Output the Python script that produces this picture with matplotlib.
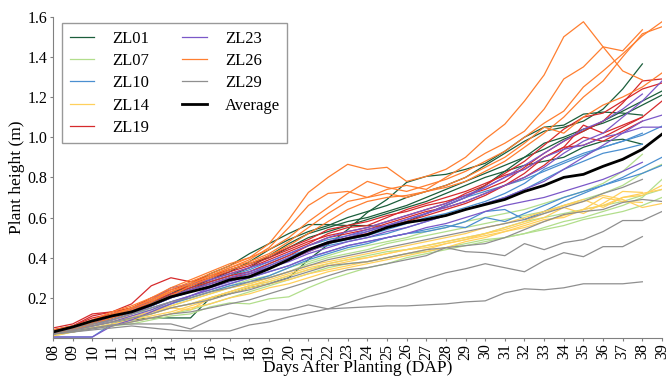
import numpy as np
import matplotlib
matplotlib.use("Agg")
from matplotlib import pyplot as plt

nan = np.nan

# days after planting
days = list(range(8, 40))
day_labels = ["%02d" % d for d in days]

# plant height (m) per replicate, days 08..39
zl01 = [
    [0.03, 0.05, 0.08, 0.11, 0.14, 0.17, 0.21, 0.25, 0.29, 0.33, 0.38, 0.44, 0.49, 0.53, 0.56, 0.60,
     0.63, 0.66, 0.70, 0.73, 0.76, 0.80, 0.86, 0.92, 0.98, 1.03, 1.05, 1.08, 1.14, 1.24, 1.365, nan],
    [0.03, 0.05, 0.07, 0.10, 0.13, 0.17, 0.22, 0.27, 0.32, 0.36, 0.42, 0.47, 0.52, 0.565, 0.565, 0.56,
     0.56, 0.555, 0.58, 0.62, 0.66, 0.70, 0.76, 0.83, 0.90, 0.97, 1.00, 1.04, 1.07, 1.11, 1.16, 1.21],
    [0.02, 0.04, 0.06, 0.08, 0.09, 0.10, 0.10, 0.10, 0.20, 0.22, 0.25, 0.27, 0.30, 0.39, 0.465, 0.54,
     0.625, 0.69, 0.775, 0.805, 0.815, 0.84, 0.87, 0.93, 1.00, 1.05, 1.06, 1.115, 1.125, 1.12, 1.11, nan],
    [0.03, 0.05, 0.08, 0.11, 0.14, 0.18, 0.22, 0.26, 0.30, 0.34, 0.37, 0.40, 0.45, 0.50, 0.53, 0.56,
     0.59, 0.62, 0.65, 0.68, 0.72, 0.76, 0.80, 0.83, 0.86, 0.88, 0.90, 0.95, 0.98, 0.99, 0.965, nan],
    [0.02, 0.04, 0.07, 0.10, 0.13, 0.16, 0.20, 0.24, 0.28, 0.31, 0.35, 0.41, 0.47, 0.52, 0.55, 0.58,
     0.60, 0.63, 0.66, 0.70, 0.74, 0.78, 0.82, 0.86, 0.90, 0.94, 0.99, 1.03, 1.08, 1.13, 1.18, 1.23],
]
zl07 = [
    [0.01, 0.03, 0.05, 0.06, 0.07, 0.09, 0.11, 0.12, 0.155, 0.175, 0.17, 0.195, 0.205, 0.25, 0.29, 0.32,
     0.35, 0.37, 0.40, 0.42, 0.44, 0.46, 0.48, 0.50, 0.52, 0.55, 0.58, 0.60, 0.63, 0.66, 0.70, 0.79],
    [0.02, 0.04, 0.06, 0.08, 0.10, 0.13, 0.16, 0.19, 0.22, 0.25, 0.27, 0.30, 0.33, 0.37, 0.40, 0.42,
     0.44, 0.47, 0.49, 0.51, 0.53, 0.55, 0.57, 0.59, 0.61, 0.63, 0.66, 0.69, 0.72, 0.76, 0.82, 0.865],
    [0.02, 0.04, 0.05, 0.07, 0.09, 0.12, 0.15, 0.17, 0.20, 0.23, 0.26, 0.28, 0.31, 0.34, 0.37, 0.39,
     0.41, 0.43, 0.44, 0.46, 0.48, 0.50, 0.52, 0.55, 0.58, 0.60, 0.62, 0.64, 0.66, 0.68, 0.71, 0.74],
    [0.03, 0.05, 0.07, 0.09, 0.12, 0.14, 0.17, 0.20, 0.23, 0.26, 0.29, 0.31, 0.35, 0.38, 0.41, 0.44,
     0.46, 0.48, 0.50, 0.53, 0.55, 0.58, 0.60, 0.62, 0.64, 0.67, 0.70, 0.73, 0.77, 0.83, 0.915, nan],
    [0.02, 0.03, 0.05, 0.06, 0.08, 0.10, 0.12, 0.14, 0.17, 0.20, 0.23, 0.26, 0.29, 0.32, 0.35, 0.37,
     0.38, 0.40, 0.42, 0.43, 0.45, 0.47, 0.49, 0.50, 0.52, 0.54, 0.56, 0.59, 0.61, 0.63, 0.66, 0.70],
]
zl10 = [
    [0.02, 0.04, 0.07, 0.10, 0.13, 0.16, 0.20, 0.23, 0.26, 0.29, 0.32, 0.36, 0.40, 0.44, 0.47, 0.49,
     0.51, 0.54, 0.57, 0.60, 0.62, 0.65, 0.68, 0.72, 0.77, 0.84, 0.88, 0.92, 0.95, 0.98, 1.01, 1.055],
    [0.005, 0.005, 0.005, 0.07, 0.10, 0.13, 0.17, 0.20, 0.23, 0.26, 0.28, 0.31, 0.35, 0.39, 0.42, 0.45,
     0.47, 0.50, 0.52, 0.53, 0.55, 0.58, 0.63, 0.64, 0.59, 0.63, 0.68, 0.72, 0.76, 0.80, 0.85, 0.90],
    [0.03, 0.05, 0.08, 0.11, 0.14, 0.17, 0.21, 0.24, 0.27, 0.30, 0.33, 0.37, 0.41, 0.44, 0.46, 0.48,
     0.50, 0.52, 0.55, 0.58, 0.61, 0.64, 0.67, 0.70, 0.74, 0.79, 0.84, 0.88, 0.92, 0.94, 0.965, nan],
    [0.02, 0.05, 0.08, 0.11, 0.14, 0.18, 0.22, 0.25, 0.28, 0.31, 0.34, 0.38, 0.42, 0.46, 0.49, 0.51,
     0.53, 0.56, 0.59, 0.62, 0.66, 0.70, 0.73, 0.76, 0.79, 0.83, 0.87, 0.91, 0.95, 0.98, 1.02, nan],
    [0.02, 0.04, 0.06, 0.09, 0.12, 0.15, 0.18, 0.21, 0.24, 0.27, 0.30, 0.33, 0.36, 0.40, 0.43, 0.46,
     0.48, 0.50, 0.52, 0.54, 0.56, 0.55, 0.60, 0.58, 0.62, 0.66, 0.70, 0.73, 0.76, 0.79, 0.82, 0.86],
]
zl14 = [
    [0.02, 0.04, 0.06, 0.08, 0.10, 0.12, 0.15, 0.14, 0.20, 0.23, 0.26, 0.28, 0.31, 0.34, 0.36, 0.38,
     0.40, 0.42, 0.44, 0.46, 0.48, 0.50, 0.52, 0.54, 0.57, 0.60, 0.65, 0.62, 0.67, 0.73, 0.725, nan],
    [0.02, 0.03, 0.05, 0.07, 0.09, 0.11, 0.13, 0.16, 0.19, 0.22, 0.25, 0.27, 0.29, 0.32, 0.34, 0.36,
     0.38, 0.40, 0.42, 0.44, 0.47, 0.49, 0.51, 0.53, 0.55, 0.58, 0.61, 0.64, 0.70, 0.68, 0.675, nan],
    [0.03, 0.05, 0.07, 0.09, 0.11, 0.13, 0.16, 0.19, 0.22, 0.25, 0.27, 0.30, 0.33, 0.36, 0.38, 0.40,
     0.42, 0.44, 0.46, 0.48, 0.50, 0.52, 0.55, 0.57, 0.60, 0.63, 0.66, 0.69, 0.65, 0.70, 0.72, 0.74],
    [0.01, 0.03, 0.05, 0.06, 0.08, 0.10, 0.12, 0.15, 0.17, 0.20, 0.22, 0.25, 0.27, 0.30, 0.33, 0.35,
     0.37, 0.39, 0.41, 0.43, 0.45, 0.48, 0.50, 0.53, 0.56, 0.59, 0.60, 0.64, 0.66, 0.70, 0.71, 0.76],
    [0.02, 0.04, 0.06, 0.08, 0.10, 0.13, 0.15, 0.17, 0.20, 0.23, 0.26, 0.29, 0.32, 0.35, 0.37, 0.39,
     0.40, 0.42, 0.44, 0.45, 0.47, 0.49, 0.52, 0.55, 0.58, 0.62, 0.66, 0.68, 0.71, 0.69, 0.65, 0.67],
]
zl19 = [
    [0.05, 0.07, 0.12, 0.13, 0.17, 0.26, 0.30, 0.28, 0.31, 0.34, 0.37, 0.41, 0.45, 0.49, 0.54, 0.56,
     0.58, 0.61, 0.63, 0.66, 0.68, 0.71, 0.74, 0.78, 0.85, 0.92, 0.98, 1.03, 1.08, 1.17, 1.28, 1.29],
    [0.04, 0.06, 0.11, 0.13, 0.15, 0.19, 0.23, 0.26, 0.29, 0.32, 0.35, 0.39, 0.43, 0.47, 0.52, 0.55,
     0.56, 0.60, 0.64, 0.67, 0.70, 0.73, 0.77, 0.81, 0.84, 0.90, 0.95, 1.06, 1.02, 1.06, 1.10, 1.18],
    [0.03, 0.05, 0.09, 0.12, 0.15, 0.18, 0.22, 0.25, 0.28, 0.31, 0.33, 0.37, 0.41, 0.46, 0.50, 0.52,
     0.54, 0.57, 0.60, 0.63, 0.65, 0.68, 0.72, 0.76, 0.80, 0.86, 0.94, 1.00, 0.98, 1.03, 1.08, nan],
    [0.04, 0.06, 0.10, 0.12, 0.15, 0.20, 0.24, 0.27, 0.30, 0.33, 0.36, 0.40, 0.44, 0.48, 0.51, 0.53,
     0.55, 0.58, 0.61, 0.64, 0.67, 0.72, 0.76, 0.82, 0.88, 0.96, 1.04, 1.10, 1.12, 1.18, 1.24, 1.27],
    [0.03, 0.05, 0.08, 0.11, 0.14, 0.17, 0.21, 0.24, 0.27, 0.30, 0.32, 0.35, 0.39, 0.43, 0.47, 0.50,
     0.52, 0.55, 0.58, 0.61, 0.64, 0.67, 0.71, 0.76, 0.82, 0.90, 0.95, 0.96, 1.00, 1.05, 1.10, nan],
]
zl23 = [
    [0.03, 0.05, 0.08, 0.11, 0.14, 0.19, 0.25, 0.27, 0.29, 0.32, 0.35, 0.38, 0.42, 0.46, 0.50, 0.53,
     0.55, 0.58, 0.61, 0.64, 0.67, 0.71, 0.75, 0.80, 0.86, 0.92, 0.98, 1.04, 1.08, 1.14, 1.215, nan],
    [0.005, 0.005, 0.005, 0.06, 0.09, 0.13, 0.17, 0.21, 0.25, 0.28, 0.31, 0.35, 0.39, 0.43, 0.47, 0.50,
     0.53, 0.56, 0.59, 0.62, 0.65, 0.68, 0.72, 0.76, 0.80, 0.85, 0.92, 0.98, 1.02, 1.10, 1.18, 1.28],
    [0.02, 0.04, 0.07, 0.09, 0.12, 0.16, 0.20, 0.23, 0.26, 0.29, 0.32, 0.35, 0.38, 0.42, 0.45, 0.48,
     0.50, 0.53, 0.55, 0.58, 0.61, 0.64, 0.67, 0.70, 0.74, 0.78, 0.84, 0.90, 0.96, 1.02, 1.08, 1.11],
    [0.02, 0.04, 0.06, 0.08, 0.11, 0.14, 0.18, 0.21, 0.24, 0.27, 0.30, 0.33, 0.36, 0.40, 0.43, 0.46,
     0.48, 0.50, 0.52, 0.55, 0.57, 0.60, 0.63, 0.66, 0.68, 0.70, 0.73, 0.76, 0.79, 0.83, 0.875, nan],
    [0.03, 0.05, 0.08, 0.10, 0.13, 0.17, 0.21, 0.24, 0.27, 0.30, 0.33, 0.36, 0.40, 0.44, 0.48, 0.51,
     0.54, 0.56, 0.59, 0.62, 0.66, 0.70, 0.75, 0.80, 0.84, 0.90, 0.94, 0.96, 1.00, 1.02, 1.05, 1.05],
]
zl26 = [
    [0.04, 0.06, 0.09, 0.13, 0.16, 0.20, 0.25, 0.29, 0.33, 0.37, 0.40, 0.47, 0.59, 0.725, 0.80, 0.865,
     0.84, 0.85, 0.78, 0.805, 0.84, 0.90, 0.99, 1.065, 1.18, 1.31, 1.50, 1.575, 1.45, 1.33, 1.285, nan],
    [0.03, 0.05, 0.08, 0.11, 0.14, 0.18, 0.23, 0.27, 0.31, 0.35, 0.39, 0.45, 0.55, 0.66, 0.72, 0.73,
     0.70, 0.74, 0.76, 0.74, 0.80, 0.86, 0.92, 0.97, 1.03, 1.14, 1.29, 1.35, 1.45, 1.43, 1.535, nan],
    [0.03, 0.05, 0.08, 0.12, 0.15, 0.19, 0.24, 0.28, 0.32, 0.36, 0.40, 0.44, 0.50, 0.58, 0.65, 0.72,
     0.78, 0.75, 0.73, 0.76, 0.79, 0.83, 0.88, 0.93, 1.00, 1.07, 1.13, 1.25, 1.33, 1.415, 1.505, 1.575],
    [0.02, 0.04, 0.07, 0.10, 0.13, 0.17, 0.21, 0.26, 0.30, 0.34, 0.37, 0.41, 0.46, 0.52, 0.58, 0.64,
     0.68, 0.70, 0.71, 0.73, 0.75, 0.78, 0.83, 0.88, 0.95, 1.02, 1.10, 1.20, 1.28, 1.40, 1.515, 1.55],
    [0.03, 0.05, 0.08, 0.11, 0.15, 0.19, 0.23, 0.27, 0.31, 0.35, 0.38, 0.42, 0.48, 0.55, 0.62, 0.68,
     0.70, 0.72, 0.70, 0.73, 0.76, 0.80, 0.85, 0.90, 0.97, 1.05, 1.02, 1.10, 1.16, 1.20, 1.25, 1.32],
]
zl29 = [
    [0.02, 0.035, 0.05, 0.065, 0.07, 0.07, 0.07, 0.045, 0.09, 0.125, 0.105, 0.14, 0.14, 0.165, 0.145, 0.15,
     0.155, 0.16, 0.16, 0.165, 0.17, 0.18, 0.185, 0.225, 0.245, 0.24, 0.25, 0.27, 0.27, 0.27, 0.28, nan],
    [0.02, 0.03, 0.04, 0.05, 0.06, 0.05, 0.04, 0.035, 0.035, 0.035, 0.065, 0.08, 0.105, 0.125, 0.145, 0.175,
     0.205, 0.23, 0.26, 0.295, 0.325, 0.345, 0.37, 0.35, 0.33, 0.385, 0.425, 0.405, 0.455, 0.455, 0.505, nan],
    [0.02, 0.03, 0.045, 0.06, 0.08, 0.10, 0.12, 0.13, 0.15, 0.17, 0.19, 0.22, 0.25, 0.28, 0.31, 0.34,
     0.35, 0.37, 0.39, 0.41, 0.45, 0.43, 0.425, 0.41, 0.47, 0.44, 0.475, 0.49, 0.53, 0.585, 0.585, 0.63],
    [0.03, 0.04, 0.06, 0.08, 0.10, 0.12, 0.15, 0.17, 0.19, 0.22, 0.24, 0.27, 0.30, 0.33, 0.36, 0.37,
     0.38, 0.40, 0.42, 0.44, 0.45, 0.46, 0.47, 0.50, 0.54, 0.58, 0.615, 0.63, 0.64, 0.675, 0.69, 0.68],
    [0.03, 0.05, 0.07, 0.09, 0.12, 0.15, 0.18, 0.20, 0.23, 0.25, 0.28, 0.30, 0.33, 0.36, 0.39, 0.41,
     0.43, 0.45, 0.47, 0.49, 0.51, 0.53, 0.55, 0.57, 0.59, 0.62, 0.65, 0.68, 0.72, 0.75, 0.79, nan],
]
average = [0.03, 0.055, 0.085, 0.11, 0.13, 0.165, 0.205, 0.23, 0.255, 0.29, 0.305, 0.345, 0.39, 0.44, 0.475, 0.495,
           0.515, 0.55, 0.575, 0.59, 0.61, 0.64, 0.665, 0.69, 0.73, 0.76, 0.80, 0.815, 0.855, 0.89, 0.94, 1.015]

genotypes = ["ZL01", "ZL07", "ZL10", "ZL14", "ZL19", "ZL23", "ZL26", "ZL29"]
colors = ["#1b5e3b", "#b2de8c", "#4a8fd0", "#ffd05c", "#d62a2c", "#7b58c8", "#ff7f30", "#8f8f8f"]
groups = [zl01, zl07, zl10, zl14, zl19, zl23, zl26, zl29]

plt.rcParams['font.family'] = ['Liberation Serif', 'DejaVu Serif']

fig = plt.figure(figsize=(6.67, 3.8), dpi=100)
ax = fig.add_axes([0.0795, 0.1105, 0.913, 0.8455])

for name, color, reps in zip(genotypes, colors, groups):
    for i, rep in enumerate(reps):
        ax.plot(days, rep, color=color, linewidth=0.9, label=name if i == 0 else None)

ax.plot(days, average, color='black', linewidth=2.0, label='Average')

ax.set_xlim(8, 39)
ax.set_ylim(0, 1.6)
ax.set_xticks(days)
ax.set_xticklabels(day_labels, rotation=90)
ax.set_yticks([0.2, 0.4, 0.6, 0.8, 1.0, 1.2, 1.4, 1.6])
ax.set_yticklabels(['0.2', '0.4', '0.6', '0.8', '1.0', '1.2', '1.4', '1.6'])
ax.tick_params(labelsize=11.5, length=2.5, color='#808080', pad=1.5)

for side in ['top', 'right']:
    ax.spines[side].set_visible(False)
for side in ['left', 'bottom']:
    ax.spines[side].set_color('#808080')

ax.set_xlabel('Days After Planting (DAP)', fontsize=12.5, labelpad=0)
ax.set_ylabel('Plant height (m)', fontsize=12.5, labelpad=2)

leg = ax.legend(loc='upper left', ncol=2, fontsize=12, fancybox=False,
                edgecolor='#808080', handlelength=1.45, columnspacing=2.0,
                borderpad=0.45, labelspacing=0.38, handletextpad=1.1,
                borderaxespad=0, bbox_to_anchor=(0.0148, 0.98))
leg.get_frame().set_linewidth(1.0)

fig.savefig('out.png', dpi=100)
